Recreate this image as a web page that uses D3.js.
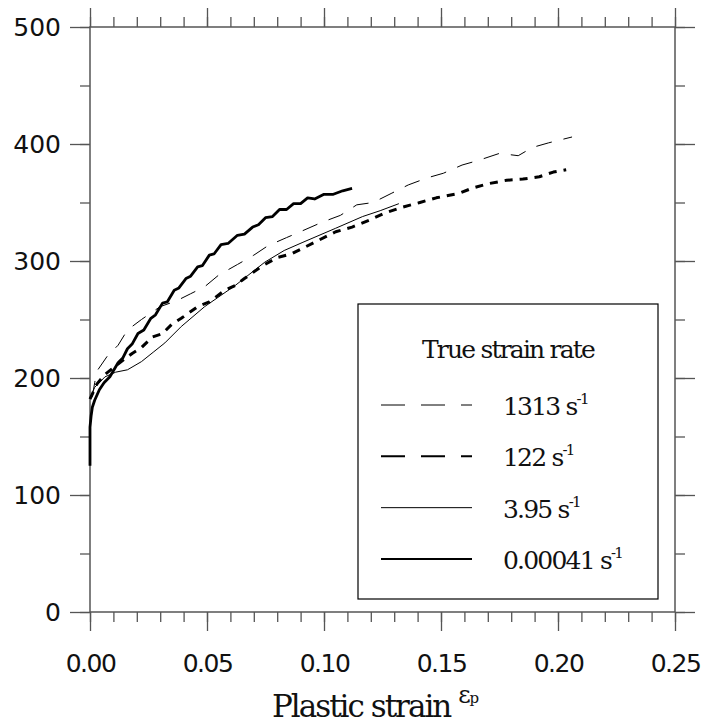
<!DOCTYPE html>
<html>
<head>
<meta charset="utf-8">
<script src="https://cdn.jsdelivr.net/npm/d3@7"></script>
<style>
  body { margin: 0; background: #fff; }
  svg { display: block; }
</style>
</head>
<body>
<svg width="704" height="726"></svg>
<script>
// data: [plastic strain, true stress]
const rate1313 = [
  [0.001, 184], [0.002, 196], [0.003, 206], [0.0075, 219], [0.012, 228], [0.016, 241],
  [0.022, 250], [0.030, 261], [0.037, 266], [0.043, 272], [0.049, 278], [0.055, 288],
  [0.063, 297], [0.070, 305], [0.076, 313], [0.084, 320], [0.091, 326], [0.099, 333],
  [0.107, 339], [0.114, 348], [0.121, 350], [0.129, 358], [0.136, 365], [0.144, 371],
  [0.151, 375], [0.159, 382], [0.166, 386], [0.175, 392], [0.183, 390], [0.189, 397],
  [0.196, 401], [0.206, 406]
];
const rate122 = [
  [0.000, 182], [0.003, 195], [0.0064, 203], [0.012, 212], [0.018, 221], [0.022, 226],
  [0.0266, 235], [0.031, 238], [0.035, 246], [0.039, 251], [0.046, 261], [0.051, 265],
  [0.0576, 275], [0.062, 279], [0.066, 285], [0.073, 295], [0.080, 303], [0.086, 306],
  [0.091, 311], [0.098, 318], [0.105, 325], [0.112, 329], [0.1195, 335], [0.126, 341],
  [0.1335, 346], [0.141, 350], [0.148, 354], [0.158, 358], [0.163, 362], [0.170, 366],
  [0.178, 369], [0.185, 370], [0.192, 372], [0.198, 376], [0.2035, 378]
];
const rate395 = [
  [0.000, 183], [0.002, 192], [0.0064, 201], [0.011, 205], [0.016, 207], [0.022, 214],
  [0.027, 222], [0.032, 230], [0.039, 244], [0.049, 261], [0.062, 279], [0.0747, 299],
  [0.083, 309], [0.091, 316], [0.105, 328], [0.1165, 338], [0.124, 343], [0.132, 349]
];
const rate000041 = [
  [0.000, 125], [0.000, 158], [0.0005, 168], [0.001, 175], [0.002, 181], [0.004, 190],
  [0.006, 196], [0.0085, 201], [0.012, 213], [0.014, 217], [0.016, 225], [0.018, 229],
  [0.0205, 238], [0.023, 241], [0.026, 251], [0.028, 254], [0.031, 264], [0.033, 265],
  [0.036, 275], [0.038, 277], [0.041, 285], [0.043, 287], [0.046, 295], [0.048, 296],
  [0.051, 305], [0.053, 306], [0.056, 314], [0.059, 315], [0.063, 322], [0.066, 323],
  [0.0695, 329], [0.072, 331], [0.075, 337], [0.078, 338], [0.081, 344], [0.084, 344],
  [0.087, 349], [0.090, 349], [0.093, 354], [0.096, 353], [0.100, 357], [0.104, 357],
  [0.108, 360], [0.112, 362]
];

const legendLabels = ['1313', '122', '3.95', '0.00041'];
const xTicks = [0, 0.05, 0.10, 0.15, 0.20, 0.25];
const xTickLabels = ['0.00', '0.05', '0.10', '0.15', '0.20', '0.25'];
const yTicks = [0, 100, 200, 300, 400, 500];

const series = [
  { data: rate1313, width: 1, dash: '16,12' },
  { data: rate122, width: 3, dash: '8,7' },
  { data: rate395, width: 1, dash: null },
  { data: rate000041, width: 2.8, dash: null }
];

const mLeft = 90, mRight = 675, mTop = 27, mBottom = 612;

const x = d3.scaleLinear().domain([0, 0.25]).range([mLeft, mRight]);
const y = d3.scaleLinear().domain([0, 500]).range([mBottom, mTop]);

const svg = d3.select('svg');
const axisColor = '#555';

// frame
svg.append('rect')
  .attr('x', mLeft).attr('y', mTop)
  .attr('width', mRight - mLeft).attr('height', mBottom - mTop)
  .attr('fill', 'none').attr('stroke', axisColor).attr('stroke-width', 1.5);

const minorX = d3.range(0, 0.2501, 0.01);
const minorY = d3.range(0, 501, 50);

function tickAxis(axis, tx, ty) {
  const g = svg.append('g').attr('transform', `translate(${tx},${ty})`).call(axis);
  g.select('.domain').remove();
  g.selectAll('.tick line').attr('stroke', axisColor).attr('stroke-width', 1.3);
  return g;
}

// minor ticks
tickAxis(d3.axisBottom(x).tickValues(minorX).tickSize(10).tickFormat(''), 0, mBottom);
tickAxis(d3.axisTop(x).tickValues(minorX).tickSize(10).tickFormat(''), 0, mTop);
tickAxis(d3.axisLeft(y).tickValues(minorY).tickSize(10).tickFormat(''), mLeft, 0);
tickAxis(d3.axisRight(y).tickValues(minorY).tickSize(10).tickFormat(''), mRight, 0);

// major ticks
const xb = tickAxis(d3.axisBottom(x).tickValues(xTicks).tickSize(19)
  .tickPadding(23).tickFormat((d, i) => xTickLabels[i]), 0, mBottom);
tickAxis(d3.axisTop(x).tickValues(xTicks).tickSize(19).tickFormat(''), 0, mTop);
const yl = tickAxis(d3.axisLeft(y).tickValues(yTicks).tickSize(20)
  .tickPadding(9).tickFormat(d3.format('d')), mLeft, 0);
tickAxis(d3.axisRight(y).tickValues(yTicks).tickSize(20).tickFormat(''), mRight, 0);

xb.selectAll('text')
  .attr('font-family', 'DejaVu Sans').attr('font-size', 25)
  .attr('letter-spacing', -1.5).attr('fill', '#111');
yl.selectAll('text')
  .attr('font-family', 'DejaVu Sans').attr('font-size', 25)
  .attr('fill', '#111');

// axis title
const title = svg.append('text')
  .attr('x', 272).attr('y', 717)
  .attr('font-family', 'DejaVu Serif').attr('font-size', 31)
  .attr('letter-spacing', -2).attr('fill', '#111');
title.append('tspan').text('Plastic strain ');
title.append('tspan').attr('dy', -14).attr('font-size', 24).attr('letter-spacing', -1).text('ε');
title.append('tspan').attr('font-size', 15).text('p');

// curves
const line = d3.line().x(d => x(d[0])).y(d => y(d[1])).curve(d3.curveLinear);

svg.append('g').selectAll('path')
  .data(series)
  .join('path')
  .attr('d', d => line(d.data))
  .attr('fill', 'none')
  .attr('stroke', '#000')
  .attr('stroke-width', d => d.width)
  .attr('stroke-linejoin', 'round')
  .attr('stroke-dasharray', d => d.dash);

// legend
const lg = svg.append('g');
lg.append('rect')
  .attr('x', 358).attr('y', 304).attr('width', 300).attr('height', 295)
  .attr('fill', '#fff').attr('stroke', '#000').attr('stroke-width', 1.2);
lg.append('text')
  .attr('x', 508).attr('y', 358).attr('text-anchor', 'middle')
  .attr('font-family', 'DejaVu Serif').attr('font-size', 25)
  .attr('letter-spacing', -1.8).attr('fill', '#111')
  .text('True strain rate');

const rowY = d3.scalePoint().domain(legendLabels).range([405, 559]);
const legendDash = ['24,16', '24,16', null, null];

lg.selectAll('line.key')
  .data(series)
  .join('line')
  .attr('class', 'key')
  .attr('x1', 381).attr('x2', 472)
  .attr('y1', (d, i) => rowY(legendLabels[i]))
  .attr('y2', (d, i) => rowY(legendLabels[i]))
  .attr('stroke', '#000')
  .attr('stroke-width', (d, i) => i % 2 ? 2 : 1)
  .attr('stroke-dasharray', (d, i) => legendDash[i]);

const lt = lg.selectAll('text.lab')
  .data(legendLabels)
  .join('text')
  .attr('class', 'lab')
  .attr('x', 503).attr('y', d => rowY(d) + 10)
  .attr('font-family', 'DejaVu Serif').attr('font-size', 25)
  .attr('letter-spacing', -1.8).attr('fill', '#111');
lt.append('tspan').text(d => d + ' s');
lt.append('tspan').attr('dy', -11).attr('font-size', 15).text('-1');
</script>
</body>
</html>
